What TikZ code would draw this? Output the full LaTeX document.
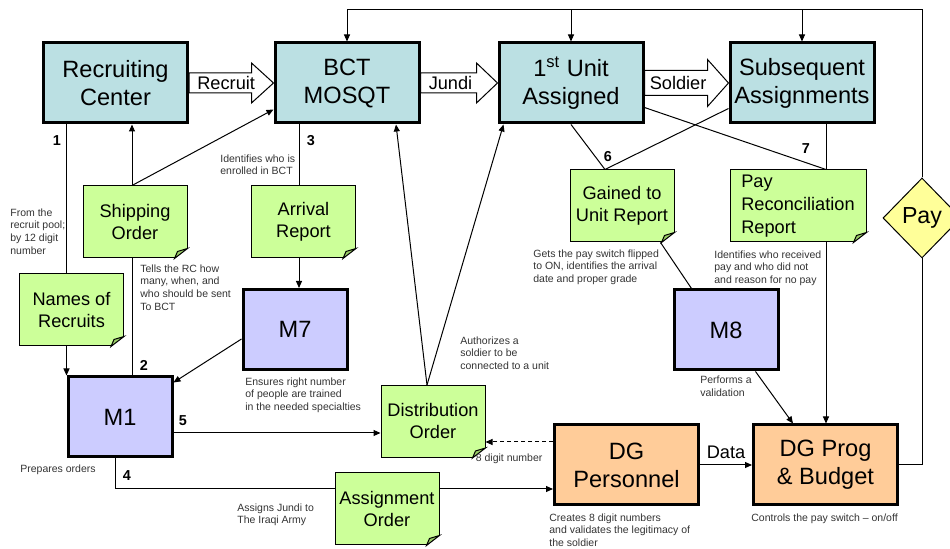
\documentclass[tikz,border=0pt]{standalone}
\usepackage{fontspec}
\setmainfont{Liberation Sans}
\usetikzlibrary{arrows.meta,shapes.geometric}
\definecolor{stagefill}{RGB}{187,224,227}
\definecolor{mfill}{RGB}{204,204,255}
\definecolor{dgfill}{RGB}{255,204,153}
\definecolor{notefill}{RGB}{204,255,153}
\definecolor{foldfill}{RGB}{153,204,102}
\definecolor{payfill}{RGB}{255,255,153}
\definecolor{remarkgray}{RGB}{51,51,51}
\tikzset{stage/.style={
    draw, line width=1.5pt, fill=stagefill,
    minimum width=72pt, minimum height=40pt,
    inner sep=0pt, align=center,
    font=\fontsize{11.8}{14}\selectfont
  },
  mbox/.style={stage, fill=mfill, minimum width=52pt},
  dgbox/.style={stage, fill=dgfill},
  note/.style={
    draw, line width=0.5pt, fill=notefill,
    minimum width=52pt, minimum height=36pt,
    inner sep=0pt, align=center,
    font=\fontsize{9.1}{11}\selectfont
  },
  paybox/.style={
    diamond, draw, line width=0.5pt, fill=payfill,
    minimum width=39pt, minimum height=40pt, inner sep=0pt,
    font=\fontsize{11.6}{13}\selectfont
  },
  remark/.style={anchor=north west, inner sep=0pt, align=left,
    text=remarkgray, font=\fontsize{5.25}{6.4}\selectfont},
  num/.style={inner sep=0pt, font=\bfseries\fontsize{7.2}{8}\selectfont},
  fatlabel/.style={inner sep=0pt, font=\fontsize{9.1}{11}\selectfont},
  link/.style={line width=0.5pt},
  flow/.style={line width=0.5pt, -{Triangle[length=3.5pt,width=3pt]}},
  fat/.style={draw, line width=0.5pt, fill=white}
}
% folded corner of a note
\newcommand\dogear[1]{%
  \fill[white] ([xshift=-6.5pt]#1.south east) -- ([yshift=5pt]#1.south east)
    -- ([shift={(1pt,5pt)}]#1.south east) -- ([shift={(1pt,-1pt)}]#1.south east)
    -- ([shift={(-6.5pt,-1pt)}]#1.south east) -- cycle;
  \filldraw[fill=foldfill, line width=0.5pt] ([xshift=-6.5pt]#1.south east)
    -- ([yshift=5pt]#1.south east) -- ([shift={(-5pt,3.5pt)}]#1.south east) -- cycle;
}
% hollow block arrow: from, to, shaft half, head half, head length
\newcommand\fatarrow[5]{%
  \draw[fat] ([yshift=#3]#1.east) -- ([shift={(-#5,#3)}]#2.west)
    -- ([shift={(-#5,#4)}]#2.west) -- (#2.west) -- ([shift={(-#5,-#4)}]#2.west)
    -- ([shift={(-#5,-#3)}]#2.west) -- ([yshift=-#3]#1.east) -- cycle;
}

\begin{document}
\begin{tikzpicture}[x=0.5pt,y=-0.5pt]
  \useasboundingbox (0,0) rectangle (950,549);
  \coordinate (ceiling) at (0,10);

  \node[stage] (rc) at (115.5,83) {Recruiting\\Center};
  \node[stage] (bct) at (347,83) {BCT\\MOSQT};
  \node[stage] (unit) at (571,83) {1\textsuperscript{st} Unit\\Assigned};
  \node[stage] (subs) at (802,83) {Subsequent\\Assignments};
  \node[mbox] (m1) at (120,417) {M1};
  \node[mbox] (m7) at (295,329.5) {M7};
  \node[mbox] (m8) at (726,330) {M8};
  \node[dgbox] (dgp) at (626.5,465) {DG\\Personnel};
  \node[dgbox] (dgb) at (825.5,465) {DG Prog\\\& Budget};
  \node[paybox] (pay) at (922,218) {Pay};

  \node[note] (ship) at (135,222) {Shipping\\Order};
  \node[note] (names) at (71.5,310) {Names of\\Recruits};
  \node[note] (arrival) at (303.5,222) {Arrival\\Report};
  \node[note] (gained) at (622,206) {Gained to\\Unit Report};
  \node[note, minimum width=68pt, align=left, font=\fontsize{9.1}{11.5}\selectfont] (payrec) at (798,206) {Pay\\Reconciliation\\Report};
  \node[note] (dist) at (433,421.5) {Distribution\\Order};
  \node[note] (assign) at (387,509) {Assignment\\Order};
  \foreach \n in {ship,names,arrival,gained,payrec,dist,assign} {
    \dogear{\n}
  }

  \fatarrow{rc}{bct}{5pt}{10pt}{11pt}
  \fatarrow{bct}{unit}{5pt}{10pt}{10.5pt}
  \fatarrow{unit}{subs}{6.25pt}{11.75pt}{10.5pt}
  \path (rc.east) -- node[fatlabel, pos=0.44] {Recruit} (bct.west);
  \path (bct.east) -- node[fatlabel, pos=0.39] {Jundi} (unit.west);
  \path (unit.east) -- node[fatlabel, pos=0.4] {Soldier} (subs.west);

  \draw[link] (rc.south -| m1.west) -- (names.north -| m1.west);
  \draw[flow] (names.south -| m1.west) -- (m1.north west);
  \draw[flow] ([xshift=-1.5pt]ship.north) -- ([xshift=-1.5pt]ship.north |- rc.south);
  \draw[flow] ([xshift=-1.5pt]ship.north) -- ([yshift=7.5pt]bct.south west);
  \draw[link] ([xshift=-1.5pt]ship.south) -- ([xshift=-1.5pt]ship.south |- m1.north);
  \draw[link] ([xshift=-2.25pt]arrival.north) -- ([xshift=-2.25pt]arrival.north |- bct.south);
  \draw[flow] ([xshift=-2.25pt]arrival.south) -- ([xshift=-2.25pt]arrival.south |- m7.north);
  \draw[flow] ([yshift=-4.75pt]m7.west) -- ([yshift=-3.5pt]m1.north east);
  \draw[flow] ([yshift=-8pt]m1.east) -- ([yshift=-8pt]m1.east -| dist.west);
  \draw[link] ([xshift=-2.5pt]m1.south) |- ([yshift=-12pt]dgp.west -| assign.west);
  \draw[flow] ([yshift=-12pt]dgp.west -| assign.east) -- ([yshift=-12pt]dgp.west);
  \draw[flow] ([xshift=-3pt]dist.north) -- ([xshift=24.5pt]bct.south);
  \draw[flow] ([xshift=-3pt]dist.north) -- ([xshift=3pt]unit.south west);
  \draw[flow, dash pattern=on 2pt off 1.5pt] ([yshift=11.5pt]dgp.west)
    -- node[remark, anchor=north, pos=0.65, yshift=-5.5pt] {8 digit number} ([yshift=11.5pt]dgp.west -| dist.east);
  \draw[link] (unit.south) -- ([xshift=-8.5pt]gained.north);
  \draw[link] ([xshift=-8.5pt]gained.north) -- ([yshift=8pt]subs.south west);
  \draw[link] ([yshift=8.5pt]unit.south east) -- ([xshift=14pt]payrec.north);
  \draw[link] ([xshift=12pt]subs.south) -- ([xshift=14pt]payrec.north);
  \draw[flow] ([xshift=14pt]payrec.south) -- ([xshift=14pt]payrec.south |- dgb.north);
  \draw[link] ([xshift=-7pt]gained.south east) -- ([xshift=9.5pt]m8.north west);
  \draw[flow] ([xshift=-12pt]m8.south east) -- ([xshift=-16.25pt]dgb.north);
  \draw[flow] (dgp.east) -- node[fatlabel, above=3pt] {Data} (dgb.west);
  \draw[link] (dgb.east) -| (pay.south);
  \draw[flow] (pay.north) |- (bct.north |- ceiling) -- (bct.north);
  \draw[flow] (unit.north |- ceiling) -- (unit.north);
  \draw[flow] (subs.north |- ceiling) -- (subs.north);

  \node[num] at (57,141) {1};
  \node[num] at (144,365) {2};
  \node[num] at (311,141) {3};
  \node[num] at (127,476) {4};
  \node[num] at (183,421) {5};
  \node[num] at (608,157) {6};
  \node[num] at (806,149) {7};

  \node[remark] at (10,208) {From the\\recruit pool;\\by 12 digit\\number};
  \node[remark] at (140,264) {Tells the RC how\\many, when, and\\who should be sent\\To BCT};
  \node[remark] at (220,154) {Identifies who is\\enrolled in BCT};
  \node[remark] at (245,377) {Ensures right number\\of people are trained\\in the needed specialties};
  \node[remark] at (20,464) {Prepares orders};
  \node[remark] at (237,503) {Assigns Jundi to\\The Iraqi Army};
  \node[remark] at (460,336) {Authorizes a\\soldier to be\\connected to a unit};
  \node[remark] at (549,513) {Creates 8 digit numbers\\and validates the legitimacy of\\the soldier};
  \node[remark] at (533,249) {Gets the pay switch flipped\\to ON, identifies the arrival\\date and proper grade};
  \node[remark] at (714,250) {Identifies who received\\pay and who did not\\and reason for no pay};
  \node[remark] at (700,376) {Performs a\\validation};
  \node[remark] at (751,513) {Controls the pay switch – on/off};
\end{tikzpicture}
\end{document}
